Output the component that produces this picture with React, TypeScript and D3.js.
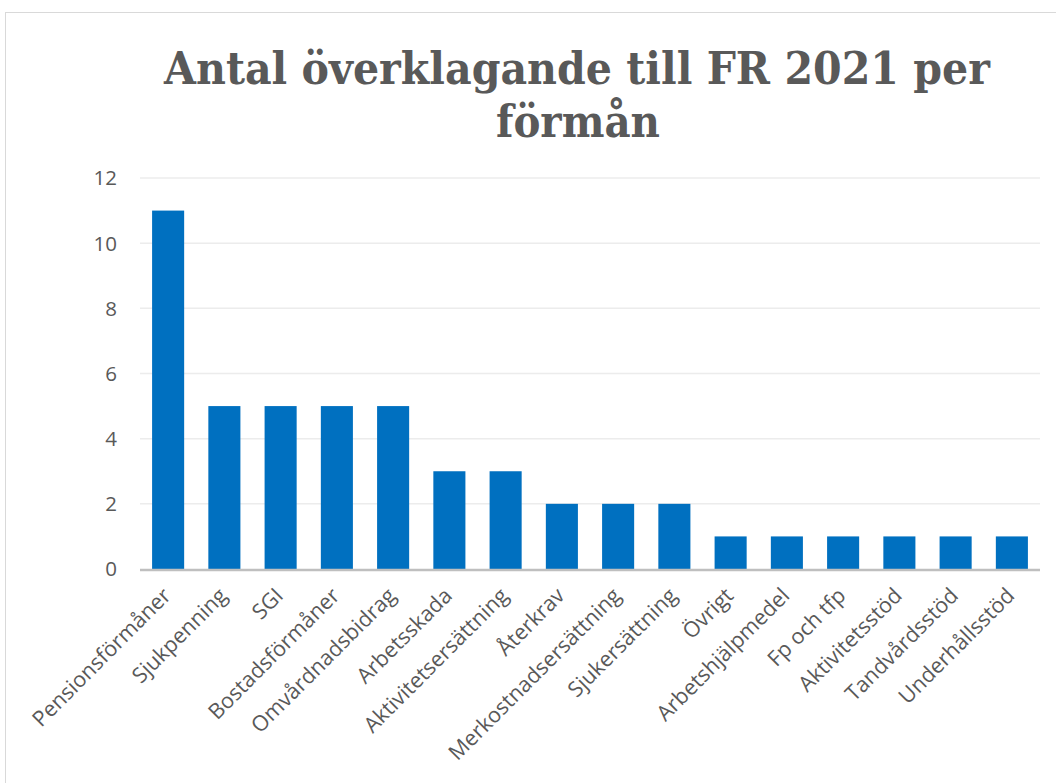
import React from "react";
import * as d3 from "d3";

const categories = [
  "Pensionsförmåner",
  "Sjukpenning",
  "SGI",
  "Bostadsförmåner",
  "Omvårdnadsbidrag",
  "Arbetsskada",
  "Aktivitetsersättning",
  "Återkrav",
  "Merkostnadsersättning",
  "Sjukersättning",
  "Övrigt",
  "Arbetshjälpmedel",
  "Fp och tfp",
  "Aktivitetsstöd",
  "Tandvårdsstöd",
  "Underhållsstöd",
];
const values = [11, 5, 5, 5, 5, 3, 3, 2, 2, 2, 1, 1, 1, 1, 1, 1];
const yTicks = [0, 2, 4, 6, 8, 10, 12];
const titleLines = ["Antal överklagande till FR 2021 per", "förmån"];

const W = 1056;
const H = 783;
const left = 140;
const right = 1040;
const top = 178;
const bottom = 569;

export default function App() {
  const x = d3
    .scaleBand<string>()
    .domain(categories)
    .range([left, right])
    .paddingInner(0.43)
    .paddingOuter(0.215);
  const y = d3.scaleLinear().domain([0, 12]).range([bottom, top]);
  const labelFont = "'Open Sans', 'Noto Sans', sans-serif";
  const titleFont = "'DejaVu Serif', 'Liberation Serif', serif";
  return (
    <svg
      width={W}
      height={H}
      style={{ position: "absolute", left: 0, top: 0, background: "#fff" }}
    >
      <rect x={5.5} y={12.5} width={1200} height={900} fill="#fff" stroke="#d9d9d9" strokeWidth={1} />
      <text
        x={577}
        y={84}
        textAnchor="middle"
        fontFamily={titleFont}
        fontWeight="bold"
        fontSize={44}
        fill="#595959"
        textLength={826}
        lengthAdjust="spacingAndGlyphs"
      >
        {titleLines[0]}
      </text>
      <text
        x={578}
        y={137}
        textAnchor="middle"
        fontFamily={titleFont}
        fontWeight="bold"
        fontSize={44}
        fill="#595959"
        textLength={164}
        lengthAdjust="spacingAndGlyphs"
      >
        {titleLines[1]}
      </text>
      {yTicks.map((t) => (
        <g key={t}>
          {t > 0 && (
            <line x1={left} x2={right} y1={y(t)} y2={y(t)} stroke="#ececec" strokeWidth={1.5} />
          )}
          <text
            x={117}
            y={y(t)}
            dy="0.36em"
            textAnchor="end"
            fontFamily={labelFont}
            fontSize={20.5}
            fill="#595959"
          >
            {t}
          </text>
        </g>
      ))}
      {categories.map((c, i) => (
        <rect
          key={c}
          x={x(c)}
          y={y(values[i])}
          width={x.bandwidth()}
          height={y(0) - y(values[i])}
          fill="#0070c0"
        />
      ))}
      <line x1={left} x2={right} y1={bottom + 1} y2={bottom + 1} stroke="#bfbfbf" strokeWidth={2.5} />
      {categories.map((c) => {
        const cx = (x(c) as number) + x.bandwidth() / 2;
        const ax = cx + 4;
        const ay = bottom + 28;
        return (
          <text
            key={c}
            x={ax}
            y={ay}
            textAnchor="end"
            fontFamily={labelFont}
            fontSize={21.5}
            fill="#595959"
            transform={`rotate(-45 ${ax} ${ay})`}
          >
            {c}
          </text>
        );
      })}
    </svg>
  );
}
